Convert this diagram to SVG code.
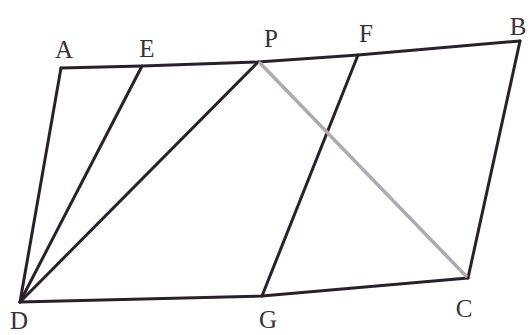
<svg xmlns="http://www.w3.org/2000/svg" width="530" height="335" viewBox="0 0 530 335">
<style>
.l{fill:none;stroke:#2b1f2b;stroke-width:3;stroke-linecap:round;stroke-linejoin:round}
.g{fill:none;stroke:#b0aab0;stroke-width:3.5;stroke-linecap:round}
.t{font-family:"Liberation Serif",serif;font-size:25px;fill:#3a303a;text-anchor:middle}
</style>
<rect width="530" height="335" fill="#ffffff"/>
<g id="connectors">
<polyline class="l" points="61,68 142,66 258,62 358,55 520,41"/>
<polyline class="l" points="20,302 262,296 468,278"/>
<line class="l" x1="61" y1="68" x2="20" y2="302"/>
<line class="l" x1="520" y1="41" x2="468" y2="278"/>
<line class="l" x1="142" y1="66" x2="20" y2="302"/>
<line class="l" x1="258" y1="62" x2="20" y2="302"/>
<line class="l" x1="358" y1="55" x2="262" y2="296"/>
<line class="g" x1="260" y1="63" x2="466" y2="276"/>
</g>
<g id="A"><text class="t" x="64" y="58">A</text></g>
<g id="E"><text class="t" x="147" y="57">E</text></g>
<g id="P"><text class="t" x="271" y="47">P</text></g>
<g id="F"><text class="t" x="366" y="42">F</text></g>
<g id="B"><text class="t" x="518" y="35">B</text></g>
<g id="D"><text class="t" x="19" y="329">D</text></g>
<g id="G"><text class="t" x="268" y="328">G</text></g>
<g id="C"><text class="t" x="464" y="317">C</text></g>
</svg>
